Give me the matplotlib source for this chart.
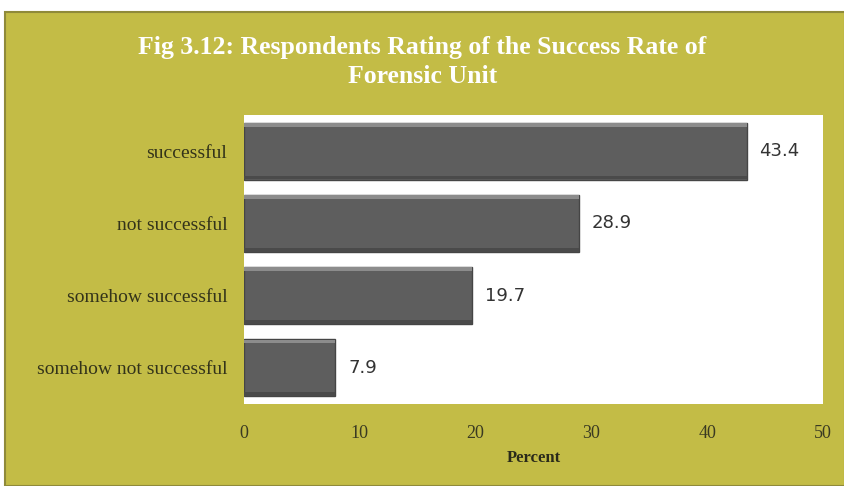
import matplotlib.pyplot as plt
from matplotlib.patches import Rectangle

categories = ['successful', 'not successful', 'somehow successful', 'somehow not successful']
percent = [43.4, 28.9, 19.7, 7.9]
xticks = [0, 10, 20, 30, 40, 50]

olive = '#c3bc46'
W, H = 845, 486

fig = plt.figure(figsize=(W / 100, H / 100), dpi=100)
fig.patch.set_facecolor('white')
# olive panel (small white margin top/left like the scan)
fig.patches.append(Rectangle((5 / W, 0), 1 - 5 / W, 1 - 12 / H, transform=fig.transFigure,
                             facecolor=olive, edgecolor='#8f8a3a', linewidth=1.5, zorder=-1))

ax = fig.add_axes([244 / W, 1 - 404 / H, (823 - 244) / W, (404 - 115) / H])
ax.set_facecolor('white')

y = list(range(len(categories)))
bh = 0.79
ax.barh(y, percent, height=bh, color='#5e5e5e', edgecolor='#454545', linewidth=1.0, zorder=2)
# bevel: light strip on top, darker strip at bottom
ax.barh([v - bh / 2 + 0.03 for v in y], percent, height=0.05, color='#8c8c8c', linewidth=0, zorder=3)
ax.barh([v + bh / 2 - 0.03 for v in y], percent, height=0.05, color='#4a4a4a', linewidth=0, zorder=3)

for yy, v in zip(y, percent):
    ax.text(v + 1.1, yy, f'{v}', va='center', ha='left', fontsize=13, color='#333333',
            family='DejaVu Sans')

ax.set_xlim(0, 50)
ax.set_ylim(len(categories) - 0.5, -0.5)
ax.set_xticks(xticks)
ax.set_xticklabels([str(t) for t in xticks], family='Liberation Serif', fontsize=13, color='#3a3a22')
ax.set_yticks(y)
ax.set_yticklabels(categories, family='Liberation Serif', fontsize=14, color='#33331a')
ax.tick_params(axis='y', length=0, pad=12)
ax.tick_params(axis='x', length=0, pad=15)
for s in ax.spines.values():
    s.set_visible(False)

ax.set_xlabel('Percent', family='Liberation Serif', fontweight='bold', fontsize=12,
              color='#2a2a1a', labelpad=6)

fig.text(0.5, 1 - 62 / H, 'Fig 3.12: Respondents Rating of the Success Rate of\nForensic Unit',
         ha='center', va='center', color='white', fontsize=18.5, fontweight='bold',
         family='Liberation Serif', linespacing=1.35)

fig.savefig('out.png', dpi=100, facecolor=fig.get_facecolor())
